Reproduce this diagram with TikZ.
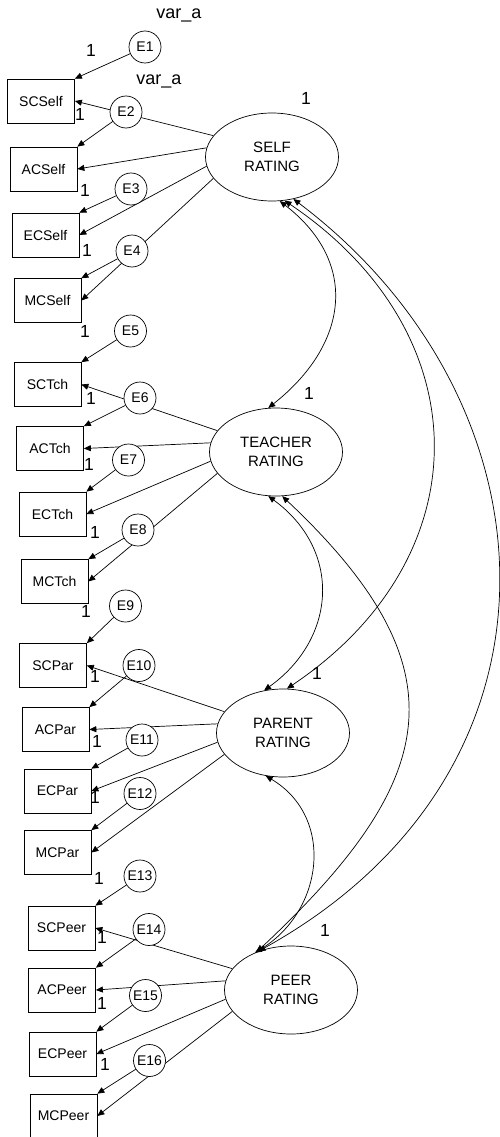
\documentclass[tikz,border=0pt]{standalone}
\usepackage{fontspec}
\setmainfont{Liberation Sans}
\usetikzlibrary{arrows.meta,shapes.geometric}
\begin{document}
\begin{tikzpicture}[x=1pt,y=-1pt,
  obs/.style={draw,rectangle,minimum width=67pt,minimum height=44pt,inner sep=0pt,line width=0.7pt,font=\fontsize{14}{16}\selectfont},
  lat/.style={draw,ellipse,minimum width=133pt,minimum height=88pt,inner sep=0pt,align=center,line width=0.7pt,font=\fontsize{15}{19}\selectfont},
  err/.style={draw,circle,fill=white,minimum size=32pt,inner sep=0pt,line width=0.7pt,font=\fontsize{14}{16}\selectfont},
  load/.style={line width=0.7pt,-{Triangle[length=7pt,width=6pt]}},
  cov/.style={line width=0.7pt,{Triangle[length=7pt,width=6pt]}-{Triangle[length=7pt,width=6pt]}},
  fix/.style={inner sep=0pt,font=\fontsize{17.5}{18}\selectfont},
  varlab/.style={inner sep=0pt,font=\fontsize{18}{20}\selectfont},
]
\useasboundingbox (0,0) rectangle (500,1137);

% latent factors
\node[lat] (self)    at (272,157) {SELF\\RATING};
\node[lat] (teacher) at (276,452) {TEACHER\\RATING};
\node[lat] (parent)  at (283,733) {PARENT\\RATING};
\node[lat] (peer)    at (291,990) {PEER\\RATING};

% observed indicators
\node[obs] (scself) at (41,101)    {SCSelf};
\node[obs] (acself) at (43.5,169)  {ACSelf};
\node[obs] (ecself) at (45.5,235)  {ECSelf};
\node[obs] (mcself) at (47.5,300.5){MCSelf};
\node[obs] (sctch)  at (47.5,384.5){SCTch};
\node[obs] (actch)  at (50,448.5)  {ACTch};
\node[obs] (ectch)  at (52.5,514)  {ECTch};
\node[obs] (mctch)  at (54.5,581.5){MCTch};
\node[obs] (scpar)  at (53,665.5)  {SCPar};
\node[obs] (acpar)  at (55.5,729.5){ACPar};
\node[obs] (ecpar)  at (57.5,791)  {ECPar};
\node[obs] (mcpar)  at (57.5,852.5){MCPar};
\node[obs] (scpeer) at (61.5,928)  {SCPeer};
\node[obs] (acpeer) at (62,990)    {ACPeer};
\node[obs] (ecpeer) at (62.5,1054) {ECPeer};
\node[obs] (mcpeer) at (63.5,1116) {MCPeer};

% factor loadings
\foreach \f/\a/\b/\c/\d in {self/scself/acself/ecself/mcself,
                            teacher/sctch/actch/ectch/mctch,
                            parent/scpar/acpar/ecpar/mcpar,
                            peer/scpeer/acpeer/ecpeer/mcpeer}{
  \draw[load] (\f.160) -- (\a.east);
  \draw[load] (\f.172) -- (\b.east);
  \draw[load] (\f.188) -- (\c.east);
  \draw[load] (\f.200) -- (\d.east);
}

% error terms
\node[err] (e1)  at (145,47)     {E1};
\node[err] (e2)  at (126,112)    {E2};
\node[err] (e3)  at (131,189)    {E3};
\node[err] (e4)  at (132,251)    {E4};
\node[err] (e5)  at (130.5,331)  {E5};
\node[err] (e6)  at (140,398)    {E6};
\node[err] (e7)  at (128.5,460)  {E7};
\node[err] (e8)  at (138,530)    {E8};
\node[err] (e9)  at (125.5,606)  {E9};
\node[err] (e10) at (139,665.5)  {E10};
\node[err] (e11) at (142,740)    {E11};
\node[err] (e12) at (140,793.5)  {E12};
\node[err] (e13) at (140,876)    {E13};
\node[err] (e14) at (149,929.5)  {E14};
\node[err] (e15) at (145.5,995.5){E15};
\node[err] (e16) at (149.5,1060.5){E16};

\foreach \e/\o in {e1/scself,e2/acself,e3/ecself,e4/mcself,
                   e5/sctch,e6/actch,e7/ectch,e8/mctch,
                   e9/scpar,e10/acpar,e11/ecpar,e12/mcpar,
                   e13/scpeer,e14/acpeer,e15/ecpeer,e16/mcpeer}{
  \draw[load] (\e) -- (\o.north east);
}

% factor covariances
\draw[cov] (self.-80) .. controls (360,263) and (348,345) .. (teacher.100);
\draw[cov] (self.-74) .. controls (481,333) and (483,557) .. (parent.85);
\draw[cov] (self.-63) .. controls (560,400) and (585,770) .. (peer.130);
\draw[cov] (teacher.-100) .. controls (342,550) and (337,638) .. (parent.114);
\draw[cov] (teacher.-82) .. controls (467,670) and (439,781) .. (peer.132);
\draw[cov] (parent.-112) .. controls (335,817) and (324,911) .. (peer.134);

% fixed parameter labels
\foreach \x/\y [count=\i] in {91/50,80/114.5,85/190,87/250,85/331,91/398,89/464,95/532,
                    86/611,95/676,97/741,95/797,99/878,102/937,102/1003,105/1064,
                    306/98,309/393,317/673,325/930}{
  \node[fix] (one\i) at (\x,\y) {1};
}
\node[varlab] (vara1) at (179,15) {var\_a};
\node[varlab] (vara2) at (159,81) {var\_a};
\end{tikzpicture}
\end{document}
